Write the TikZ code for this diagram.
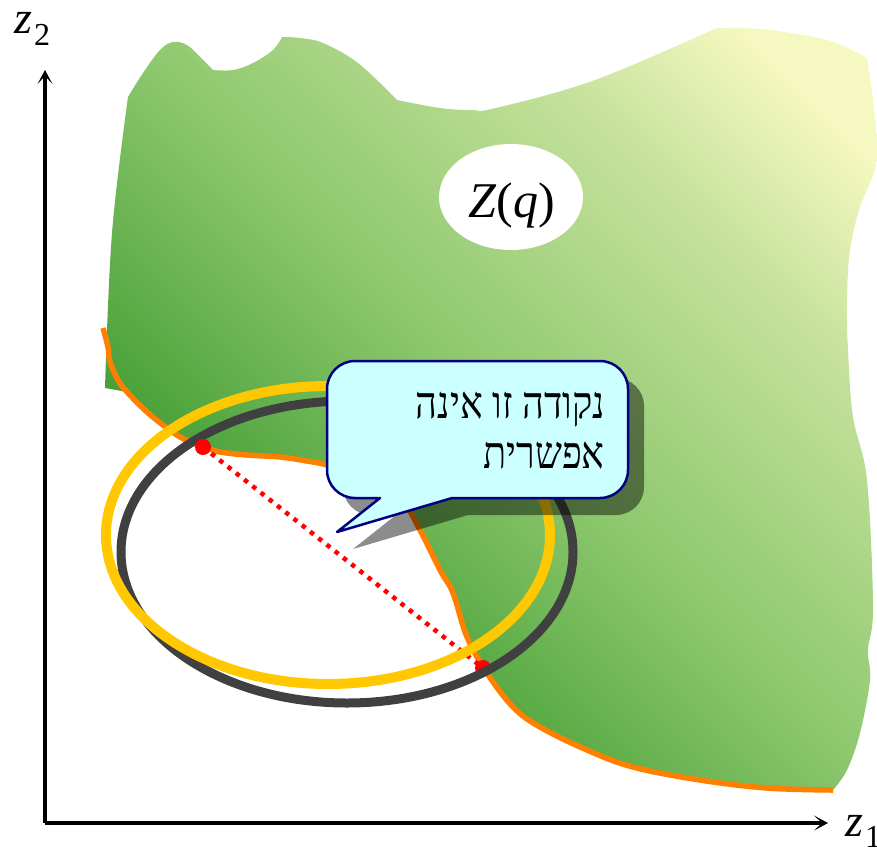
\documentclass[tikz,border=0pt]{standalone}
\usepackage{fontspec}
\setmainfont{Liberation Serif}
\newfontfamily\hebfont[Script=Hebrew]{Liberation Serif}
\usetikzlibrary{shapes.geometric, arrows.meta}
\TeXXeTstate=1
\definecolor{gA}{HTML}{48A038}
\definecolor{gC}{HTML}{8CC76D}
\definecolor{gD}{HTML}{C4E19B}
\definecolor{gE}{HTML}{F5F8C0}
\definecolor{orangeline}{HTML}{FF8000}
\definecolor{yellowring}{HTML}{FFC800}
\definecolor{darkring}{HTML}{404040}
\definecolor{calloutfill}{HTML}{CCFFFF}
\definecolor{calloutedge}{HTML}{000080}
\pgfdeclarehorizontalshading{greenfield}{100bp}{color(0bp)=(gA); color(33bp)=(gA); color(50bp)=(gC); color(68bp)=(gD); color(79bp)=(gE); color(100bp)=(gE)}
\newcommand\greenregion{(105,388) -- plot[smooth, tension=0.6] coordinates {(105,388) (112,233) (128,97)} -- plot[smooth, tension=0.6] coordinates {(128,97) (143,73) (160,50) (173,42) (187,45) (200,57) (213,70)} -- plot[smooth, tension=0.6] coordinates {(213,70) (233,70) (253,63) (273,50) (282,37)} -- plot[smooth, tension=0.6] coordinates {(282,37) (300,38) (323,43) (358,63) (397,100)} -- plot[smooth, tension=0.6] coordinates {(397,100) (440,108) (472,110) (496,108) (595,80) (717,28)} -- plot[smooth, tension=0.6] coordinates {(717,28) (760,29) (827,40) (867,58)} -- plot[smooth, tension=0.6] coordinates {(867,58) (873,100) (877,160) (860,207) (850,250) (847,300) (848,350) (853,417) (867,480) (873,607) (868,650) (870,680) (860,733) (847,770) (833,790)} -- plot[smooth, tension=0.6] coordinates {(833,790) (767,788) (700,780) (633,767) (587,750) (540,727) (513,707) (487,673) (467,637) (453,593) (440,570) (420,530) (400,497) (370,478) (327,465) (307,461) (280,457) (247,455) (220,452) (207,448) (193,443) (180,437) (167,428) (147,412) (127,392)} -- cycle}
\newcommand\calloutpath{(337,532) -- (380,498) -- (355,498) arc[start angle=90, end angle=180, radius=28] -- (327,389) arc[start angle=180, end angle=270, radius=28] -- (600,361) arc[start angle=270, end angle=360, radius=28] -- (628,470) arc[start angle=0, end angle=90, radius=28] -- (452,498) -- cycle}
\tikzset{
  axisline/.style={line width=4.5pt, -{Stealth[length=14pt, width=15pt, inset=8pt]}},
  reddots/.style={red, line width=4.5pt, dash pattern=on 4.5pt off 6pt},
  ring/.style={line width=10pt},
  hebtext/.style={font=\hebfont\fontsize{40}{50}\selectfont, inner sep=0pt, anchor=base east},
}
\begin{document}
\begin{tikzpicture}[x=1pt, y=-1pt]
\useasboundingbox (0,0) rectangle (877,852);
% green region
\shade[shading=greenfield, shading angle=45] \greenregion;
% Z(q)
\node[ellipse, fill=white, minimum width=144pt, minimum height=106pt, inner sep=0pt] (zq) at (511,197) {};
\node[anchor=base, inner sep=0pt, font=\fontsize{50}{50}\selectfont] (zqlabel) at (512,217) {\textit{Z}(\textit{q})};
% orange boundary
\draw[orangeline, line width=5.5pt, line join=round] plot[smooth, tension=0.6] coordinates {(103,328) (108,347) (110,362) (118,380) (127,392) (147,412) (167,428) (180,437) (193,443) (207,448) (220,452) (247,455) (280,457) (307,461) (327,465) (370,478) (400,497) (420,530) (440,570) (453,593) (467,637) (487,673) (513,707) (540,727) (587,750) (633,767) (700,780) (767,788) (833,790)};
% red dotted chord
\coordinate (pA) at (203,447);
\coordinate (pB) at (483,668);
\draw[reddots] (pA) -- (pB);
\fill[red] (pB) circle[radius=8];
% rings
\draw[darkring, line width=9pt] (347,552) ellipse [x radius=226, y radius=151];
\draw[yellowring, ring] (328,535) ellipse [x radius=222, y radius=149];
\fill[red] (pA) circle[radius=8];
% callout
\fill[black, fill opacity=0.45, shift={(16,17)}] \calloutpath;
\draw[calloutedge, fill=calloutfill, line width=2.5pt, line join=round] \calloutpath;
\node[hebtext] (msg1) at (605,418) {\scalebox{0.95}[1.12]{\beginR נקודה זו אינה\endR}};
\node[hebtext] (msg2) at (605,468) {\scalebox{0.95}[1.12]{\beginR אפשרית\endR}};
% axes
\coordinate (O) at (45,823);
\coordinate (ytip) at (45,70);
\coordinate (xtip) at (828,823);
\draw[axisline] (O) -- (ytip);
\draw[axisline] (O) -- (xtip);
\node[anchor=base west, inner sep=0pt, font=\fontsize{46}{46}\selectfont] (z2) at (14,33) {\textit{z}\kern2pt\raisebox{-12pt}{\fontsize{32}{32}\selectfont 2}};
\node[anchor=base west, inner sep=0pt, font=\fontsize{46}{46}\selectfont] (z1) at (845,836) {\textit{z}\kern2pt\raisebox{-11pt}{\fontsize{32}{32}\selectfont 1}};
\end{tikzpicture}
\end{document}
